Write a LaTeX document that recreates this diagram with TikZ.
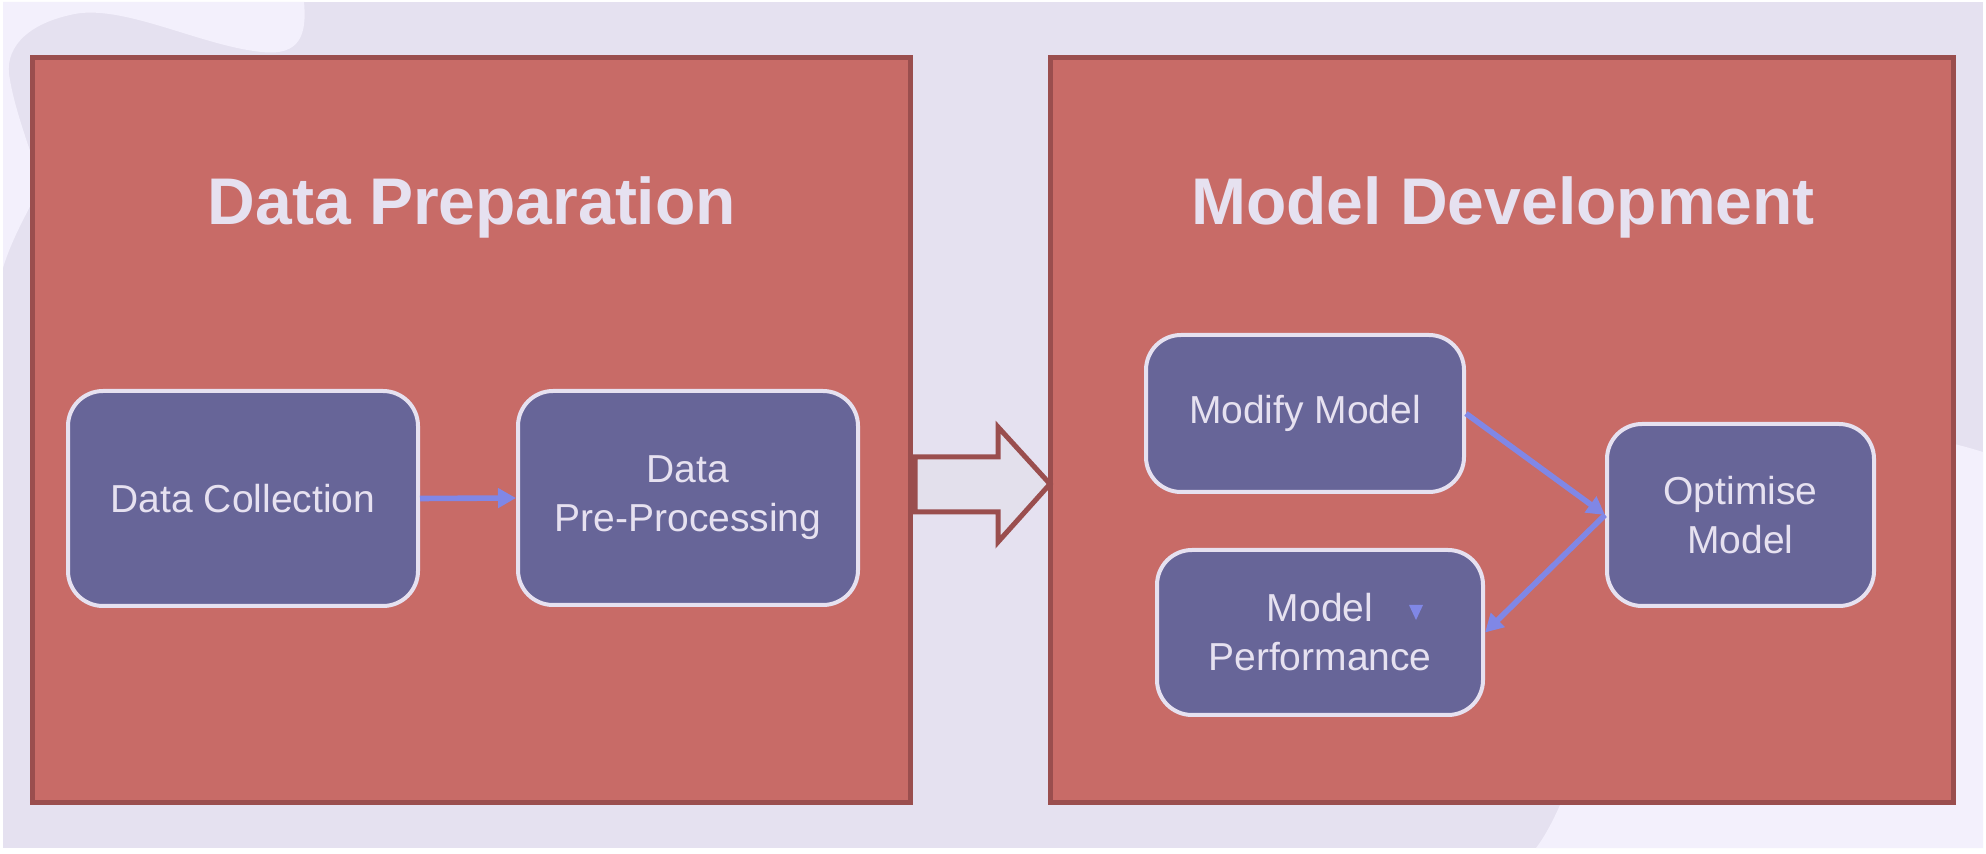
\documentclass[tikz,border=0pt]{standalone}
\usepackage{fontspec}
\setmainfont{Liberation Sans}
\usetikzlibrary{arrows.meta}

\definecolor{bgback}{HTML}{E5E1F0}
\definecolor{bglight}{HTML}{F3F0FC}
\definecolor{panelred}{HTML}{C86B67}
\definecolor{paneledge}{HTML}{9A4E4E}
\definecolor{stagefill}{HTML}{676598}
\definecolor{stageedge}{HTML}{E6E1F0}
\definecolor{flowblue}{HTML}{8087E6}
\definecolor{bigarrow}{HTML}{E3E0EC}

\begin{document}
\begin{tikzpicture}[x=0.5pt,y=-0.5pt,
  panel/.style={draw=paneledge, fill=panelred, line width=2.5pt, inner sep=0pt},
  paneltitle/.style={text=stageedge, font=\fontsize{33}{40}\selectfont\bfseries, anchor=base},
  stage/.style={draw=stageedge, fill=stagefill, line width=2pt, rounded corners=17.5pt, text=stageedge, align=center, inner sep=0pt, font=\fontsize{19.5}{24.5}\selectfont},
  flow/.style={draw=flowblue, line width=2.8pt, -{Triangle[length=9pt,width=9.5pt]}}]
\useasboundingbox (0,0) rectangle (1986,854);
\fill[white] (0,0) rectangle (1986,854);
\fill[bgback] (3,2) rectangle (1983,848);
%% light blobs
\fill[bglight] (3,2) -- (304,2) .. controls (307,35) and (300,56) .. (262,52) .. controls (200,46) and (120,2) .. (70,15) .. controls (25,25) and (3,50) .. (10,80) .. controls (15,110) and (30,150) .. (40,180) .. controls (38,198) and (15,228) .. (3,268) -- cycle; %%TopLeft
\fill[bglight] (1536,848) .. controls (1600,765) and (1640,440) .. (1850,432) .. controls (1920,433) and (1960,445) .. (1983,452) -- (1983,848) -- cycle; %%BottomRight

%% panels
\node[panel, minimum width=439pt, minimum height=372.5pt] (prepbox) at (471.5,430) {};
\node[panel, minimum width=451.5pt, minimum height=372.5pt] (devbox) at (1502,430) {};
\node[paneltitle] (preptitle) at (472,225) {Data Preparation};
\node[paneltitle] (devtitle) at (1503,225) {Model Development};

%% big arrow
\draw[draw=paneledge, fill=bigarrow, line width=2.5pt] (915,457) -- (998,457) -- (998,427) -- (1050,484) -- (998,542) -- (998,512) -- (915,512) -- cycle;

%% stages
\node[stage, minimum width=175pt, minimum height=107.5pt] (collect) at (243,498.5) {Data Collection};
\node[stage, minimum width=170pt, minimum height=107pt] (preproc) at (688,498) {Data\\Pre-Processing};
\node[stage, minimum width=159pt, minimum height=78.5pt] (modify) at (1305,413.5) {Modify Model};
\node[stage, minimum width=133.5pt, minimum height=91pt] (optimise) at (1740.5,515) {Optimise\\Model};
\node[stage, minimum width=163pt, minimum height=82.5pt] (perform) at (1320,632.5) {Model\\Performance};
\fill[flowblue] (1409,605) -- (1423,605) -- (1416,620) -- cycle;

%% flows
\draw[flow] (collect.east) -- (preproc.west);
\draw[flow] (modify.east) -- (optimise.west);
\draw[flow] (optimise.west) -- (perform.east);
\end{tikzpicture}
\end{document}
